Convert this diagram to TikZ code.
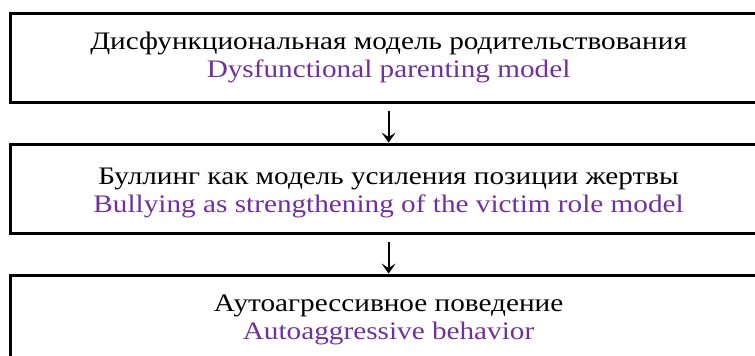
\documentclass[tikz,border=0pt]{standalone}
\usepackage{fontspec}
\setmainfont{Liberation Serif}[FakeStretch=1.16]
\usepackage{xcolor}
\usepackage{tikz}
\usetikzlibrary{positioning,arrows.meta}

\definecolor{engpurple}{HTML}{7030A0}

\begin{document}
\begin{tikzpicture}[
  >={Stealth[length=5pt,width=7pt,inset=2.2pt]},
  stage/.style={rectangle, draw=black, line width=1.5pt, minimum width=378pt, minimum height=44.5pt,
    inner sep=0pt, outer sep=0pt, align=center, font=\fontsize{12.6pt}{14.2pt}\selectfont}
]
  \useasboundingbox (0,0) rectangle (377.5pt,-178pt);

  \node (parenting) [stage, anchor=north west] at (5.3pt,-6.6pt) {Дисфункциональная модель родительствования\\ \textcolor{engpurple}{Dysfunctional parenting model}};
  \node (bullying) [stage, below=21pt of parenting] {\rule{0pt}{12.5pt}Буллинг как модель усиления позиции жертвы\\ \textcolor{engpurple}{Bullying as strengthening of the victim role model}};
  \node (autoaggr) [stage, below=21pt of bullying] {Аутоагрессивное поведение\\ \textcolor{engpurple}{Autoaggressive behavior}};

  \draw[->, line width=0.9pt, shorten <=4.5pt, shorten >=0.8pt] (parenting) -- (bullying);
  \draw[->, line width=0.9pt, shorten <=4.5pt, shorten >=0.8pt] (bullying) -- (autoaggr);
\end{tikzpicture}
\end{document}
